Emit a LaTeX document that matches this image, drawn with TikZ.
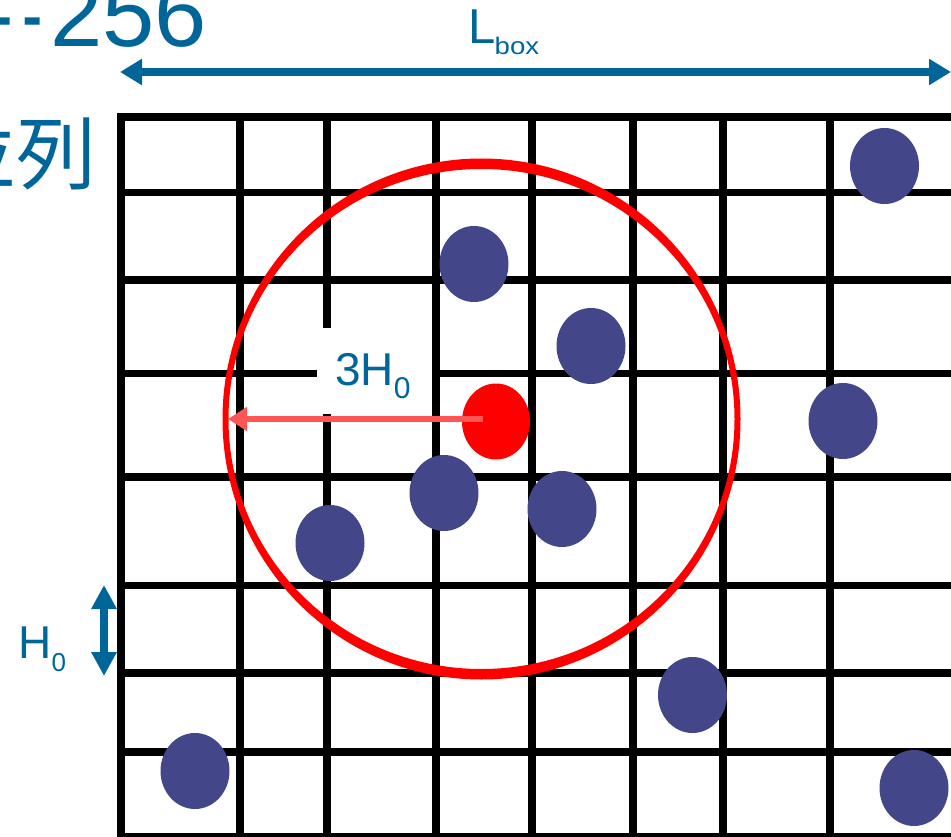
\documentclass[tikz,border=0pt]{standalone}
\usepackage{graphicx}
\usepackage{fontspec}
\setmainfont{Liberation Sans}
\newfontfamily\cjkfont{Noto Sans CJK JP}
\usetikzlibrary{arrows.meta}
\definecolor{tblue}{RGB}{0,102,153}
\definecolor{dotblue}{RGB}{67,71,138}
\definecolor{arrred}{RGB}{255,85,85}
\begin{document}
\begin{tikzpicture}[x=1pt,y=-1pt,
  gridline/.style={line width=7.7pt, black, line cap=rect},
  bdot/.style={fill=dotblue},
  txt/.style={text=tblue, inner sep=0pt, outer sep=0pt},
  bluearrow/.style={tblue, line width=8.5pt}
]
\useasboundingbox (0,0) rectangle (951,837);
% cut-off title fragments
\node[txt, anchor=base west] (title) at (-7.7,47)
  {\fontsize{94}{94}\selectfont\scalebox{0.65}[1]{-}\kern9.7pt\scalebox{0.65}[1]{-}\kern7.6pt 256};
\node[txt, anchor=base east] (kanji) at (97,184) {\cjkfont\fontsize{80}{80}\selectfont 並列};
% grid
\foreach \y in {117,192.5,280,373.5,477,585.5,673,752,837}
  \draw[gridline] (121,\y) -- (960,\y);
\foreach \x in {121,240,327,436,532,633,723,830}
  \draw[gridline] (\x,117) -- (\x,845);
% label background
\fill[white] (317,328) rectangle (432,414);
\node[txt, anchor=base west] (lab3h) at (335,385)
  {\fontsize{46}{46}\selectfont 3H\raisebox{-13pt}{\fontsize{30}{30}\selectfont 0}};
% H0 label and arrow
\node[txt, anchor=base west] (labh) at (18.3,658)
  {\fontsize{46}{46}\selectfont H\raisebox{-13pt}{\fontsize{26}{26}\selectfont 0}};
\coordinate (hT) at (104,585);
\coordinate (hB) at (104,676);
\draw[bluearrow, {Triangle[length=24pt,width=24pt]}-{Triangle[length=24pt,width=24pt]}] (hT) -- (hB);
% L_box label and arrow
\node[txt, anchor=base west] (labl) at (468.4,43.3)
  {\fontsize{49}{49}\selectfont L\kern-1pt\raisebox{-11pt}{\scalebox{1.15}[1]{\fontsize{24}{24}\selectfont box}}};
\coordinate (lbL) at (120,72);
\coordinate (lbR) at (951,72);
\draw[bluearrow, {Triangle[length=22pt,width=25pt]}-{Triangle[length=22pt,width=25pt]}] (lbL) -- (lbR);
% cutoff circle (stroke thicker at top and bottom, as in the reference)
\coordinate (cen) at (481.5,419);
\fill[red, even odd rule] (cen) ellipse[x radius=259pt, y radius=260.5pt]
  (cen) ellipse[x radius=253pt, y radius=250pt];
% particles
\foreach \px/\py in {884.5/166, 474/264, 591/346, 843/421, 444/493, 562/509, 330/543, 692.5/695, 195/771, 914/788}
  \fill[bdot] (\px,\py) ellipse[x radius=34.5pt, y radius=38pt];
\coordinate (rdot) at (496,421.5);
\fill[red] (rdot) ellipse[x radius=34pt, y radius=38pt];
% radius arrow
\coordinate (rs) at (483,419);
\coordinate (rw) at (228,419);
\draw[arrred, line width=6.5pt, -{Triangle[length=19pt,width=23pt]}] (rs) -- (rw);
\end{tikzpicture}
\end{document}
